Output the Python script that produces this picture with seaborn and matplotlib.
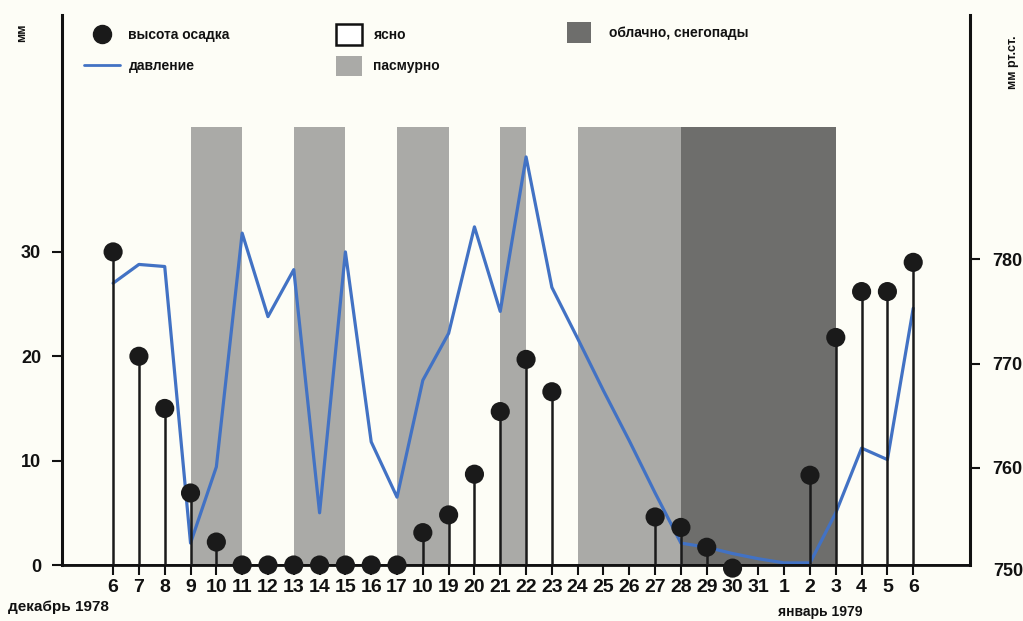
import matplotlib
matplotlib.use("Agg")
import matplotlib.pyplot as plt
from matplotlib.lines import Line2D
from matplotlib.patches import Patch
import matplotlib.transforms as mtransforms
import numpy as np
import pandas as pd
import seaborn as sns

# days 6 Dec 1978 .. 6 Jan 1979 (the "10" under the 18th is as printed)
day_labels = ["6", "7", "8", "9", "10", "11", "12", "13", "14", "15", "16", "17",
              "10", "19", "20", "21", "22", "23", "24", "25", "26", "27", "28",
              "29", "30", "31", "1", "2", "3", "4", "5", "6"]
precip_mm = [30, 20, 15, 6.9, 2.2, 0, 0, 0, 0, 0, 0, 0,
             3.1, 4.8, 8.7, 14.7, 19.7, 16.6, np.nan, np.nan, np.nan, 4.6, 3.6,
             1.7, -0.3, np.nan, np.nan, 8.6, 21.8, 26.2, 26.2, 29.0]
pressure = [777.7, 779.5, 779.3, 752.8, 760.1, 782.5, 774.5, 779.0, 755.7, 780.7,
            762.5, 757.2, 768.4, 772.9, 783.1, 775.0, 789.8, 777.3, 772.4, 767.4,
            762.6, 757.6, 752.8, 752.4, 751.8, 751.3, 750.9, 750.9, 755.7, 761.9,
            760.8, 775.3]
# weather bands: start day index, end day index, kind
band_start = [3, 7, 11, 15, 18, 22]
band_end = [5, 9, 13, 16, 22, 28]
band_kind = ["пасмурно", "пасмурно", "пасмурно", "пасмурно", "пасмурно",
             "облачно, снегопады"]

df = pd.DataFrame({"day": np.arange(len(day_labels)),
                   "precip": precip_mm, "pressure": pressure})

sns.set_theme(style="white")
plt.rcParams["font.family"] = ["Liberation Sans", "DejaVu Sans"]
plt.rcParams["font.weight"] = "bold"

bg = "#fdfdf6"
ink = "#111111"
kind_color = {"пасмурно": "#aaaaa7", "облачно, снегопады": "#6e6e6c"}
line_color = "#4272c4"

fig = plt.figure(figsize=(10.23, 6.21), dpi=100, facecolor=bg)
ax = fig.add_axes([62 / 1023, 56 / 621, 908 / 1023, 550 / 621])
ax2 = ax.twinx()
ax.set_zorder(ax2.get_zorder() + 1)
ax.patch.set_visible(False)
ax2.patch.set_facecolor(bg)

ymax_mm = 52.7
offset = 750.7  # pressure level that sits on the 0 mm line

# weather bands (behind everything)
band_top = 42
for s, e, k in zip(band_start, band_end, band_kind):
    ax2.bar(s, band_top, width=e - s, bottom=offset, align="edge",
            color=kind_color[k], linewidth=0, zorder=0)

# pressure line
sns.lineplot(data=df, x="day", y="pressure", ax=ax2, color=line_color,
             linewidth=2.3, zorder=2, legend=False)

# precipitation stems and dots
wet = df.dropna(subset=["precip"])
ax.vlines(wet["day"], 0, wet["precip"], color="#1a1a1a", linewidth=1.8, zorder=3)
sns.scatterplot(data=wet, x="day", y="precip", ax=ax, color="#1a1a1a",
                s=190, edgecolor="none", zorder=4, legend=False, clip_on=False)

ax.set_xlim(-1.98, 33.2)
ax.set_ylim(0, ymax_mm)
ax2.set_ylim(offset, offset + ymax_mm)

# axes styling
for a in (ax, ax2):
    a.spines["top"].set_visible(False)
    a.set_xlabel("")
    a.set_ylabel("")
    a.grid(False)
ax.spines["left"].set_linewidth(2.2)
ax.spines["bottom"].set_linewidth(2.0)
ax2.spines["right"].set_linewidth(2.2)
for sp in ("left", "right", "bottom"):
    ax.spines[sp].set_color(ink)
    ax2.spines[sp].set_color(ink)
ax2.spines["left"].set_visible(False)
ax.spines["right"].set_visible(False)

ax.set_xticks(df["day"])
ax.set_xticklabels(day_labels)
ax.tick_params(axis="x", direction="out", length=7, width=1.5, pad=3,
               labelsize=14, colors=ink, bottom=True)
ax.set_yticks([0, 10, 20, 30])
ax.tick_params(axis="y", direction="out", length=7, width=1.5, pad=8,
               labelsize=13, colors=ink, left=True)
ax2.set_yticks([760, 770, 780])
ax2.tick_params(axis="y", direction="out", length=7, width=1.5, pad=9,
                labelsize=13, colors=ink, right=True)
for lbl in ax.get_xticklabels() + ax.get_yticklabels() + ax2.get_yticklabels():
    lbl.set_fontweight("bold")
# 750 sits just under the corner, below the 0 mm line
trans = mtransforms.blended_transform_factory(ax2.transAxes, ax2.transData)
ax2.text(1.0 + 23 / 908, 750.1, "750", transform=trans, ha="left", va="center",
         fontsize=13, fontweight="bold", color=ink, clip_on=False)

# unit labels and months
fig.text(22 / 1023, 1 - 33 / 621, "мм", rotation=90, ha="center", va="center",
         fontsize=9, fontweight="bold", color=ink)
fig.text(1013 / 1023, 1 - 62 / 621, "мм рт.ст.", rotation=90, ha="center",
         va="center", fontsize=9, fontweight="bold", color=ink)
fig.text(8 / 1023, 1 - 607 / 621, "декабрь 1978", ha="left", va="center",
         fontsize=11, fontweight="bold", color=ink)
fig.text(820 / 1023, 1 - 612 / 621, "январь 1979", ha="center", va="center",
         fontsize=10, fontweight="bold", color=ink)

# legends
lkw = dict(frameon=False, borderpad=0, borderaxespad=0, loc="upper left",
           prop={"weight": "bold", "size": 10}, labelcolor=ink)
h1 = [Line2D([], [], marker="o", color="#1a1a1a", linestyle="none", markersize=13),
      Line2D([], [], color=line_color, linewidth=2.0)]
fig.legend(h1, ["высота осадка", "давление"],
           bbox_to_anchor=(84 / 1023, 1 - 28 / 621),
           handlelength=2.6, handletextpad=0.6, labelspacing=1.2, **lkw)
h2 = [Patch(facecolor="white", edgecolor=ink, linewidth=1.8),
      Patch(facecolor=kind_color["пасмурно"], edgecolor="none")]
fig.legend(h2, ["ясно", "пасмурно"],
           bbox_to_anchor=(336 / 1023, 1 - 24 / 621),
           handlelength=1.9, handleheight=1.9, handletextpad=0.8,
           labelspacing=0.8, **lkw)
h3 = [Patch(facecolor=kind_color["облачно, снегопады"], edgecolor="none")]
fig.legend(h3, ["облачно, снегопады"],
           bbox_to_anchor=(567 / 1023, 1 - 22 / 621),
           handlelength=1.7, handleheight=1.9, handletextpad=1.3, **lkw)

fig.savefig("out.png", dpi=100, facecolor=bg)
